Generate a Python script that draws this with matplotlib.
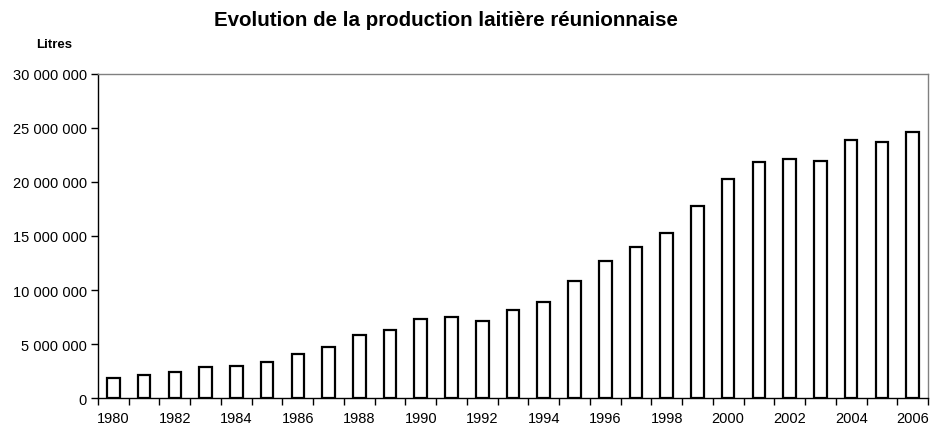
import matplotlib
matplotlib.use("Agg")
import matplotlib.pyplot as plt
import numpy as np
from matplotlib.ticker import FuncFormatter, FixedLocator

years = list(range(1980, 2007))
production = [1.85e6, 2.16e6, 2.43e6, 2.86e6, 2.99e6, 3.39e6, 4.10e6, 4.77e6, 5.82e6,
              6.28e6, 7.36e6, 7.55e6, 7.18e6, 8.19e6, 8.93e6, 10.84e6, 12.72e6,
              14.01e6, 15.28e6, 17.77e6, 20.27e6, 21.84e6, 22.08e6, 21.96e6,
              23.87e6, 23.68e6, 24.64e6]
title = "Evolution de la production laitière réunionnaise"
ylabel = "Litres"

plt.rcParams['font.family'] = ['Liberation Sans', 'DejaVu Sans']

fig = plt.figure(figsize=(9.3, 4.27), dpi=100)
ax = fig.add_axes([98/930, 1 - 399.3/427, (928-98)/930, (399.3-74.7)/427])

x = np.arange(len(years))
ax.bar(x, production, width=0.41, facecolor='white', edgecolor='black', linewidth=1.6, zorder=3)

ax.set_xlim(-0.5, len(years) - 0.5)
ax.set_ylim(0, 30e6)
ax.set_yticks(np.arange(0, 30e6 + 1, 5e6))
ax.yaxis.set_major_formatter(FuncFormatter(lambda v, p: f"{int(v):,}".replace(",", " ")))

ax.set_xticks(x[::2])
ax.set_xticklabels([str(y) for y in years[::2]])
ax.xaxis.set_minor_locator(FixedLocator(np.arange(-0.5, len(years), 1.0)))
ax.tick_params(axis='x', which='major', length=0, pad=9.5, labelsize=10.5)
ax.tick_params(axis='x', which='minor', length=5, width=1, direction='out', color='black')
ax.tick_params(axis='y', which='major', length=5, width=1, direction='out', labelsize=10.5, pad=3)

for s in ['left', 'bottom']:
    ax.spines[s].set_color('black')
    ax.spines[s].set_linewidth(1.0)
for s in ['top', 'right']:
    ax.spines[s].set_color('#808080')
    ax.spines[s].set_linewidth(1.0)

fig.text(446/930, 1 - 20/427, title, ha='center', va='center', fontsize=14.8, fontweight='bold')
fig.text(54/930, 1 - 45/427, ylabel, ha='center', va='center', fontsize=9.5, fontweight='bold')

fig.savefig("out.png", dpi=100)
